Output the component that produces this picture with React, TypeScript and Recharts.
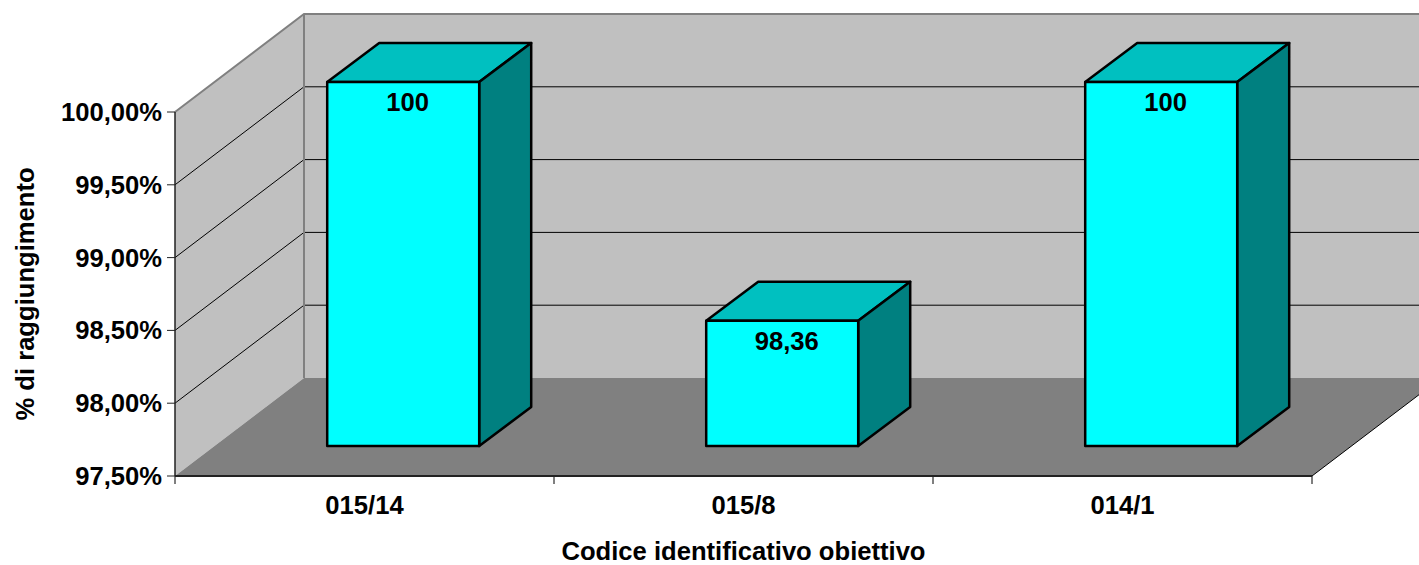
import React from 'react';
import { BarChart, Bar, XAxis, YAxis, LabelList, usePlotArea } from 'recharts';

const categories = ['015/14', '015/8', '014/1'];
const values = [100, 98.36, 100];
const valueLabels = ['100', '98,36', '100'];
const yTicks = [97.5, 98, 98.5, 99, 99.5, 100];
const yDomain = [97.5, 100];

const data = categories.map((code, i) => ({ code, value: values[i], label: valueLabels[i] }));

const FONT = '"Liberation Sans", Arial, sans-serif';
const FONT_SIZE = 25.6;
const WALL_DX = 129;
const WALL_DY = 98;
const BAR_DX = 39;
const BAR_DY = 30;
const BAR_DEPTH_X = 52;
const BAR_DEPTH_Y = 39;

const pts = (list: number[][]) => list.map((p) => p.join(',')).join(' ');

// back wall, side wall and floor, sized from the plot area
function Scene() {
  const plot = usePlotArea();
  if (!plot) return null;
  const left = plot.x;
  const right = plot.x + plot.width;
  const top = plot.y;
  const bottom = plot.y + plot.height;
  const yOf = (t: number) => bottom - ((t - yDomain[0]) / (yDomain[1] - yDomain[0])) * plot.height;
  const band = plot.width / categories.length;

  return (
    <g>
      <polygon
        points={pts([[left + WALL_DX, top - WALL_DY], [right + WALL_DX, top - WALL_DY], [right + WALL_DX, bottom - WALL_DY], [left + WALL_DX, bottom - WALL_DY]])}
        fill="#c0c0c0"
      />
      <polygon
        points={pts([[left, top], [left + WALL_DX, top - WALL_DY], [left + WALL_DX, bottom - WALL_DY], [left, bottom]])}
        fill="#c0c0c0"
      />
      {yTicks.slice(1, -1).map((t) => (
        <g key={t}>
          <line x1={left} y1={yOf(t)} x2={left + WALL_DX} y2={yOf(t) - WALL_DY} stroke="#000" />
          <line x1={left + WALL_DX} y1={yOf(t) - WALL_DY} x2={right + WALL_DX} y2={yOf(t) - WALL_DY} stroke="#000" />
        </g>
      ))}
      <polygon
        points={pts([[left, bottom], [left + WALL_DX, bottom - WALL_DY], [right + WALL_DX, bottom - WALL_DY], [right, bottom]])}
        fill="#808080"
      />
      <polyline
        points={pts([[left, top], [left + WALL_DX, top - WALL_DY], [right + WALL_DX, top - WALL_DY]])}
        fill="none"
        stroke="#808080"
        strokeWidth={2}
      />
      <line x1={left + WALL_DX} y1={top - WALL_DY} x2={left + WALL_DX} y2={bottom - WALL_DY} stroke="#808080" strokeWidth={2} />
      <line x1={right} y1={bottom} x2={right + WALL_DX} y2={bottom - WALL_DY} stroke="#000" />
      {categories.map((c, i) => (
        <line key={c} x1={left + band * i} y1={bottom} x2={left + band * i} y2={bottom + 8} stroke="#000" />
      ))}
      <line x1={right} y1={bottom} x2={right} y2={bottom + 8} stroke="#000" />
    </g>
  );
}

function Box(props: any) {
  const { x, y, width, height } = props;
  const x0 = x + BAR_DX - 0.5;
  const x1 = x0 + width;
  const y0 = y - BAR_DY;
  const y1 = y + height - BAR_DY;
  const dx = BAR_DEPTH_X;
  const dy = BAR_DEPTH_Y;
  const line = { stroke: '#000', strokeWidth: 2.5, strokeLinejoin: 'round' as const };
  return (
    <g>
      <polygon points={pts([[x0, y0], [x0 + dx, y0 - dy], [x1 + dx, y0 - dy], [x1, y0]])} fill="#00c0c0" {...line} />
      <polygon points={pts([[x1, y0], [x1 + dx, y0 - dy], [x1 + dx, y1 - dy], [x1, y1]])} fill="#008080" {...line} />
      <rect x={x0} y={y0} width={width} height={height} fill="#00ffff" {...line} />
    </g>
  );
}

function BoxLabel(props: any) {
  const { x, y, width, value } = props;
  return (
    <text
      x={x + BAR_DX + width / 2 + 4}
      y={y - BAR_DY + 29}
      textAnchor="middle"
      fontFamily={FONT}
      fontWeight="bold"
      fontSize={FONT_SIZE}
      fill="#000"
    >
      {value}
    </text>
  );
}

const formatTick = (t: number) => t.toFixed(2).replace('.', ',') + '%';

export default function App() {
  const tickStyle = { fontFamily: FONT, fontWeight: 'bold', fontSize: FONT_SIZE, fill: '#000' };
  return (
    <div style={{ position: 'absolute', left: 0, top: 0, width: 1419, height: 565, overflow: 'hidden', background: '#fff' }}>
      <BarChart
        width={1419}
        height={565}
        data={data}
        margin={{ top: 112, right: 107, bottom: 0, left: 0 }}
        barCategoryGap="30%"
      >
        <Scene />
        <XAxis
          dataKey="code"
          height={89}
          tickLine={false}
          axisLine={{ stroke: '#222', strokeWidth: 2 }}
          tick={{ ...tickStyle, dy: 2 }}
          tickMargin={12}
          interval={0}
          label={{ value: 'Codice identificativo obiettivo', position: 'insideBottom', offset: 5, style: tickStyle }}
        />
        <YAxis
          width={175}
          domain={yDomain}
          ticks={yTicks}
          tickFormatter={formatTick}
          interval={0}
          tickSize={8}
          tickMargin={5}
          tickLine={{ stroke: '#222' }}
          axisLine={{ stroke: '#222', strokeWidth: 1.5 }}
          tick={tickStyle}
          label={{ value: '% di raggiungimento', angle: -90, position: 'insideLeft', offset: 0, dx: 25, style: { ...tickStyle, textAnchor: 'middle' } }}
        />
        <Bar dataKey="value" shape={Box} isAnimationActive={false}>
          <LabelList dataKey="label" content={BoxLabel} />
        </Bar>
      </BarChart>
    </div>
  );
}
